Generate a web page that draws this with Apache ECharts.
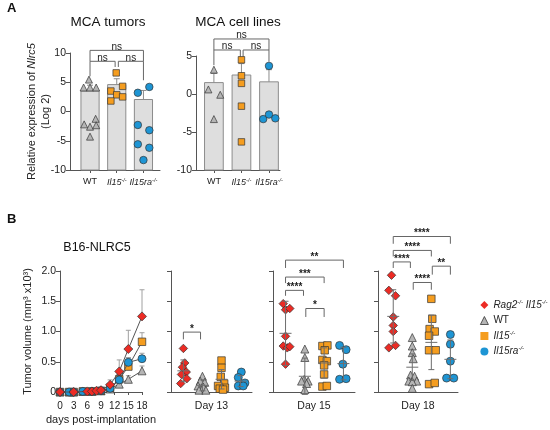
<!DOCTYPE html>
<html><head><meta charset="utf-8">
<script src="https://cdn.jsdelivr.net/npm/echarts@6/dist/echarts.min.js"></script>
<style>html,body{margin:0;padding:0;background:#fff}#c{width:550px;height:430px}</style>
</head><body><div id="c"></div>
<script>
// ================= DATA =================
const groupsA = ['WT', 'Il15', 'Il15ra'];
const xLabelsA = ['WT', '{i|Il15}{s|-/-}', '{i|Il15ra}{s|-/-}'];

// Panel A – MCA tumors (log2 relative expression)
const tumorBar = [3.5, 4.6, 2.05];
const tumorErr = [1.0, 1.0, 1.55];
const tumorWT = [5.45, 4.1, 4.1, 4.1, -1.25, -2.2, -2.6, -2.35, -4.3];
const tumorWTJit = [-0.04, -0.24, 0, 0.23, 0.21, -0.22, 0, 0.23, 0];
const tumorIl15 = [6.6, 3.5, 4.3, 2.85, 1.8, 2.5];
const tumorIl15Jit = [-0.02, -0.22, 0.22, 0, -0.22, 0.22];
const tumorIl15ra = [3.2, 4.2, -2.3, -3.2, -5.6, -6.2, -8.3];
const tumorIl15raJit = [-0.21, 0.22, -0.21, 0.22, -0.21, 0.22, 0];
const tumorBrackets = [[0, 2, 10.45, 1.87, 1.87], [0, 0.94, 8.58, 2.56, 0.97], [1.06, 2, 8.58, 0.97, 3.24]];
const tumorBracketLabels = ['ns', 'ns', 'ns'];

// Panel A – MCA cell lines
const cellBar = [1.5, 2.5, 1.6];
const cellErr = [1.2, 1.5, 1.6];
const cellWT = [3.2, 0.6, -0.1, -3.3];
const cellWTJit = [0, -0.2, 0.23, 0];
const cellIl15 = [4.5, 2.4, 1.4, -1.6, -6.3];
const cellIl15Jit = [0, 0, 0, 0, 0];
const cellIl15ra = [3.7, -3.3, -2.7, -3.2];
const cellIl15raJit = [0, -0.21, 0, 0.23];
const cellBrackets = [[0, 2, 7.24, 1.45, 1.45], [0, 0.96, 5.79, 2.0, 0.9], [1.06, 2, 5.79, 0.9, 1.54]];
const cellBracketLabels = ['ns', 'ns', 'ns'];

// Panel B – tumor growth (mm3 x10^3), mean and SEM
const daysRag2 = [0, 3, 6, 7, 8, 9, 11, 13, 15, 18];
const volRag2 = [0, 0, 0.01, 0.01, 0.02, 0.03, 0.12, 0.34, 0.71, 1.25];
const semRag2 = [0, 0, 0, 0, 0, 0.01, 0.08, 0.19, 0.31, 0.44];
const daysOther = [0, 2, 3, 5, 7, 9, 11, 13, 15, 18];
const volWT = [0, 0, 0, 0.01, 0.01, 0.02, 0.05, 0.13, 0.21, 0.35];
const semWT = [0, 0, 0, 0, 0, 0, 0.02, 0.04, 0.06, 0.08];
const volIl15 = [0, 0, 0, 0.01, 0.01, 0.02, 0.07, 0.21, 0.42, 0.83];
const semIl15 = [0, 0, 0, 0, 0, 0, 0.03, 0.08, 0.15, 0.15];
const volIl15ra = [0, 0, 0, 0.01, 0.01, 0.02, 0.06, 0.2, 0.49, 0.55];
const semIl15ra = [0, 0, 0, 0, 0, 0, 0.02, 0.07, 0.07, 0.09];

const groupsB = ['Rag2', 'WT', 'Il15', 'Il15ra'];

// Day 13
const d13Rag2 = [0.72, 0.48, 0.41, 0.33, 0.29, 0.22, 0.14];
const d13Rag2Jit = [0, 0.07, -0.05, 0.15, -0.1, 0.18, -0.14];
const d13WT = [0.26, 0.18, 0.16, 0.1, 0.08, 0.03, 0.03];
const d13WTJit = [0, -0.12, 0.12, -0.23, 0.05, -0.18, 0.18];
const d13Il15 = [0.52, 0.40, 0.25, 0.14, 0.1, 0.07, 0.055, 0.04];
const d13Il15Jit = [0, 0, -0.04, 0.14, -0.18, 0.18, -0.09, 0.08];
const d13Il15ra = [0.33, 0.24, 0.15, 0.1, 0.1];
const d13Il15raJit = [0.04, -0.12, 0.23, -0.12, 0.14];
const d13Mean = [0.35, 0.11, 0.21, 0.18];
const d13Sd = [0.18, 0.09, 0.16, 0.09];
const d13Brackets = [[0, 0.9, 0.99, 0.12, 0.12]];
const d13BracketLabels = ['*'];

// Day 15
const d15Rag2 = [1.46, 1.36, 1.38, 0.92, 0.76, 0.73, 0.75, 0.46];
const d15Rag2Jit = [-0.12, 0, 0.22, 0, -0.12, 0.09, 0.22, 0];
const d15WT = [0.71, 0.57, 0.21, 0.18, 0.18, 0.14, 0.04];
const d15WTJit = [0, 0, -0.03, 0.17, -0.17, 0.09, 0];
const d15Il15 = [0.76, 0.77, 0.69, 0.53, 0.51, 0.44, 0.29, 0.09, 0.1];
const d15Il15Jit = [-0.09, 0.17, 0.03, -0.09, 0.14, 0, 0, -0.09, 0.14];
const d15Il15ra = [0.77, 0.7, 0.46, 0.21, 0.22];
const d15Il15raJit = [-0.2, 0.14, -0.03, -0.2, 0.14];
const d15Mean = [0.97, 0.26, 0.48, 0.47];
const d15Sd = [0.53, 0.3, 0.25, 0.27];
const d15Brackets = [[0, 3, 2.18, 0.13, 0.13], [0, 2, 1.9, 0.1, 0.1], [0, 0.93, 1.68, 0.09, 0.09], [1.05, 2, 1.38, 0.14, 0.14]];
const d15BracketLabels = ['**', '***', '****', '*'];

// Day 18
const d18Rag2 = [1.93, 1.68, 1.59, 1.24, 1.1, 1.0, 0.73, 0.77];
const d18Rag2Jit = [-0.09, -0.23, 0.12, 0, 0, 0, -0.23, 0.12];
const d18WT = [0.9, 0.76, 0.65, 0.55, 0.28, 0.26, 0.18, 0.18, 0.17, 0.06];
const d18WTJit = [0, 0, 0, 0.05, -0.09, 0.12, -0.18, 0.23, 0, 0];
const d18Il15 = [1.54, 1.21, 1.04, 1.0, 0.93, 0.69, 0.69, 0.13, 0.15];
const d18Il15Jit = [0, 0.05, -0.09, 0.18, -0.12, -0.12, 0.23, -0.12, 0.18];
const d18Il15ra = [0.95, 0.79, 0.51, 0.23, 0.23];
const d18Il15raJit = [0, 0, 0, -0.2, 0.18];
const d18Mean = [1.25, 0.41, 0.82, 0.54];
const d18Sd = [0.44, 0.22, 0.45, 0.32];
const d18Brackets = [[0, 3, 2.57, 0.12, 0.12], [0, 2, 2.34, 0.1, 0.1], [0, 0.9, 2.15, 0.1, 0.1], [2.05, 3, 2.08, 0.14, 0.14], [1.05, 2, 1.81, 0.12, 0.12]];
const d18BracketLabels = ['****', '****', '****', '**', '****'];

const legendLabels = {
  Rag2: '{i|Rag2}{s|-/-} {i|Il15}{s|-/-}',
  WT: 'WT',
  Il15: '{i|Il15}{s|-/-}',
  Il15ra: '{i|Il15ra}{s|-/-}'
};

// ================= STYLE =================
const FONT = 'Liberation Sans, Arial, Helvetica, sans-serif';
const COLOR = { Rag2: '#ec2b24', WT: '#b5b5b5', Il15: '#f59d1f', Il15ra: '#1e95d4' };
const SYMBOL = { Rag2: 'diamond', WT: 'triangle', Il15: 'rect', Il15ra: 'circle' };
const AXIS_C = '#555';
const RICH = {
  i: { fontStyle: 'italic', fontFamily: FONT, fontSize: 9, color: '#222', lineHeight: 11 },
  s: { fontStyle: 'italic', fontFamily: FONT, fontSize: 5.5, color: '#222', verticalAlign: 'top', lineHeight: 11 }
};

const chart = echarts.init(document.getElementById('c'), null, { renderer: 'canvas' });

// ---------- render helpers ----------
const BAR_HW = 0.34;
function renderBar(params, api) {
  const x = api.value(0), v = api.value(1), base = api.value(2);
  const a = api.coord([x - BAR_HW, base]), b = api.coord([x + BAR_HW, v]);
  return { type: 'rect', shape: { x: a[0], y: b[1], width: b[0] - a[0], height: a[1] - b[1] },
    style: { fill: '#dedede', stroke: '#8c8c8c', lineWidth: 1 } };
}
function errRender(color, capPx, meanPx, both) {
  return function (params, api) {
    const x = api.value(0), m = api.value(1), e = api.value(2);
    if (!e) return null;
    const t = api.coord([x, m + e]), c = api.coord([x, m]), b = api.coord([x, both ? m - e : m]);
    const st = { stroke: color, lineWidth: 1 };
    const ch = [
      { type: 'line', shape: { x1: t[0], y1: t[1], x2: b[0], y2: b[1] }, style: st },
      { type: 'line', shape: { x1: t[0] - capPx, y1: t[1], x2: t[0] + capPx, y2: t[1] }, style: st }
    ];
    if (both) {
      ch.push({ type: 'line', shape: { x1: b[0] - capPx, y1: b[1], x2: b[0] + capPx, y2: b[1] }, style: st });
      ch.push({ type: 'line', shape: { x1: c[0] - meanPx, y1: c[1], x2: c[0] + meanPx, y2: c[1] }, style: st });
    }
    return { type: 'group', children: ch };
  };
}
function bracketRender(labels, font, dy) {
  return function (params, api) {
    const x1 = api.value(0), x2 = api.value(1), y = api.value(2), d1 = api.value(3), d2 = api.value(4);
    const p1 = api.coord([x1, y - d1]), p2 = api.coord([x1, y]), p3 = api.coord([x2, y]), p4 = api.coord([x2, y - d2]);
    return { type: 'group', children: [
      { type: 'polyline', shape: { points: [p1, p2, p3, p4] }, style: { stroke: '#666', fill: 'none', lineWidth: 1 } },
      { type: 'text', x: (p2[0] + p3[0]) / 2, y: p2[1] + dy,
        style: { text: labels[params.dataIndex], font: font, fill: '#222', align: 'center', verticalAlign: 'bottom' } }
    ] };
  };
}

const series = [];
function scatter(name, idx, gi, vals, jit, size) {
  series.push({
    type: 'scatter', name: name, xAxisIndex: idx, yAxisIndex: idx,
    data: vals.map((v, k) => [gi + jit[k], v]),
    symbol: SYMBOL[name], symbolSize: size[name], z: 5,
    itemStyle: { color: COLOR[name], borderColor: '#333', borderWidth: 0.7, opacity: 1 },
    emphasis: { disabled: true }, silent: true, clip: false
  });
}
function custom(idx, data, render, z) {
  series.push({ type: 'custom', xAxisIndex: idx, yAxisIndex: idx, data: data, renderItem: render, z: z || 3, silent: true, clip: false });
}

// ---- Panel A ----
const sizeA = { WT: 7, Il15: 6.5, Il15ra: 7.5, Rag2: 7 };
custom(0, tumorBar.map((v, i) => [i, v, -10]), renderBar, 1);
custom(0, tumorBar.map((v, i) => [i, v, tumorErr[i]]), errRender('#8c8c8c', 3, 0, false), 2);
scatter('WT', 0, 0, tumorWT, tumorWTJit, sizeA);
scatter('Il15', 0, 1, tumorIl15, tumorIl15Jit, sizeA);
scatter('Il15ra', 0, 2, tumorIl15ra, tumorIl15raJit, sizeA);
custom(0, tumorBrackets, bracketRender(tumorBracketLabels, '10px ' + FONT, 1.5), 4);

custom(1, cellBar.map((v, i) => [i, v, -10]), renderBar, 1);
custom(1, cellBar.map((v, i) => [i, v, cellErr[i]]), errRender('#8c8c8c', 3, 0, false), 2);
scatter('WT', 1, 0, cellWT, cellWTJit, sizeA);
scatter('Il15', 1, 1, cellIl15, cellIl15Jit, sizeA);
scatter('Il15ra', 1, 2, cellIl15ra, cellIl15raJit, sizeA);
custom(1, cellBrackets, bracketRender(cellBracketLabels, '10px ' + FONT, 1.5), 4);

// ---- Panel B line chart ----
const sizeL = { Rag2: 9, WT: 8, Il15: 7.5, Il15ra: 8 };
const lineSets = [
  ['WT', daysOther, volWT, semWT],
  ['Il15', daysOther, volIl15, semIl15],
  ['Il15ra', daysOther, volIl15ra, semIl15ra],
  ['Rag2', daysRag2, volRag2, semRag2]
];
lineSets.forEach(([name, d, v, s], k) => {
  custom(2, d.map((x, i) => [x, v[i], s[i]]), errRender('#a0a0a0', 2.5, 0, false), 2);
});
lineSets.forEach(([name, d, v, s], k) => {
  series.push({
    type: 'line', name: name, xAxisIndex: 2, yAxisIndex: 2,
    data: d.map((x, i) => [x, v[i]]),
    symbol: SYMBOL[name], symbolSize: sizeL[name], showSymbol: true, z: 5 + k,
    lineStyle: { color: '#555', width: 1 },
    itemStyle: { color: COLOR[name], borderColor: '#333', borderWidth: 0.7 },
    emphasis: { disabled: true }, silent: true, clip: false
  });
});

// ---- Day panels ----
const sizeD = { Rag2: 8.5, WT: 8, Il15: 7.5, Il15ra: 8 };
const dayPanels = [
  [3, [d13Rag2, d13WT, d13Il15, d13Il15ra], [d13Rag2Jit, d13WTJit, d13Il15Jit, d13Il15raJit], d13Mean, d13Sd, d13Brackets, d13BracketLabels],
  [4, [d15Rag2, d15WT, d15Il15, d15Il15ra], [d15Rag2Jit, d15WTJit, d15Il15Jit, d15Il15raJit], d15Mean, d15Sd, d15Brackets, d15BracketLabels],
  [5, [d18Rag2, d18WT, d18Il15, d18Il15ra], [d18Rag2Jit, d18WTJit, d18Il15Jit, d18Il15raJit], d18Mean, d18Sd, d18Brackets, d18BracketLabels]
];
dayPanels.forEach(([idx, vals, jits, mean, sd, br, brl]) => {
  groupsB.forEach((g, gi) => scatter(g, idx, gi, vals[gi], jits[gi], sizeD));
  custom(idx, mean.map((m, i) => [i, m, sd[i]]), errRender('#6e6e6e', 3, 6, true), 6);
  custom(idx, br, bracketRender(brl, 'bold 10px ' + FONT, 2), 4);
});

// ---------- axes ----------
const axLine = { show: true, onZero: false, lineStyle: { color: AXIS_C, width: 1 } };
const grids = [
  { left: 70, top: 53, width: 90, height: 117 },
  { left: 196, top: 56, width: 84, height: 114 },
  { left: 60, top: 271, width: 82, height: 121 },
  { left: 171, top: 271, width: 81, height: 121 },
  { left: 273, top: 271, width: 82, height: 121 },
  { left: 378, top: 271, width: 80, height: 121 }
];
function catX(min, max, withLabels, name) {
  return {
    type: 'value', min: min, max: max, axisLine: axLine, splitLine: { show: false },
    axisTick: { show: withLabels, customValues: [0, 1, 2], length: 3, lineStyle: { color: AXIS_C } },
    axisLabel: withLabels ? { show: true, customValues: [0, 1, 2], formatter: v => xLabelsA[Math.round(v)],
      fontFamily: FONT, fontSize: 9, color: '#222', margin: 7, rich: RICH } : { show: false },
    name: name || '', nameLocation: 'middle', nameGap: 9, nameMoveOverlap: false,
    nameTextStyle: { fontFamily: FONT, fontSize: 10.5, color: '#222' }
  };
}
const xAxis = [
  catX(-0.75, 2.62, true),
  catX(-0.65, 2.4, true),
  {
    type: 'value', min: 0, max: 18, interval: 3, axisLine: axLine, splitLine: { show: false },
    axisTick: { show: true, length: 3, lineStyle: { color: AXIS_C } },
    axisLabel: { fontFamily: FONT, fontSize: 10, color: '#222', margin: 9 },
    name: 'days post-implantation', nameLocation: 'middle', nameGap: 22, nameMoveOverlap: false,
    nameTextStyle: { fontFamily: FONT, fontSize: 11, color: '#222' }
  },
  catX(-0.65, 3.6, false, 'Day 13'),
  catX(-0.65, 3.6, false, 'Day 15'),
  catX(-0.8, 3.4, false, 'Day 18')
];
function yAx(min, max, interval, labels, fmt, name, gap, nameStyle) {
  return {
    type: 'value', min: min, max: max, interval: interval, axisLine: axLine, splitLine: { show: false },
    axisTick: { show: true, length: 4, lineStyle: { color: AXIS_C } },
    axisLabel: labels ? { show: true, fontFamily: FONT, fontSize: 10.5, color: '#222', margin: 4, formatter: fmt } : { show: false },
    name: name || '', nameLocation: 'middle', nameGap: gap || 0, nameRotate: 90, nameMoveOverlap: false,
    nameTextStyle: nameStyle || {}
  };
}
const yAxis = [
  yAx(-10, 10, 5, true, null, 'Relative expression of {i|Nlrc5}\n(Log 2)', 17,
    { fontFamily: FONT, fontSize: 11, color: '#222', lineHeight: 14, align: 'center',
      rich: { i: { fontStyle: 'italic', fontFamily: FONT, fontSize: 11, color: '#222', lineHeight: 14 } } }),
  yAx(-10, 5, 5, true, null),
  yAx(0, 2, 0.5, true, v => v === 0 ? '0' : v.toFixed(1), 'Tumor volume (mm³ x10³)', 27,
    { fontFamily: FONT, fontSize: 11, color: '#222' }),
  yAx(0, 2, 0.5, false),
  yAx(0, 2, 0.5, false),
  yAx(0, 2, 0.5, false)
];
xAxis.forEach((a, i) => a.gridIndex = i);
yAxis.forEach((a, i) => a.gridIndex = i);

function title(text, left, top, size, bold, align) {
  return { text: text, left: left, top: top, padding: 0, textAlign: align || 'left',
    textStyle: { fontFamily: FONT, fontSize: size, color: '#111', fontWeight: bold ? 'bold' : 'normal' } };
}

chart.setOption({
  backgroundColor: '#fff',
  animation: false,
  title: [
    title('A', 7, 2, 13, true),
    title('MCA tumors', 108, 15, 13.5, false, 'center'),
    title('MCA cell lines', 238, 15, 13.5, false, 'center'),
    title('B', 7, 213, 13, true),
    title('B16-NLRC5', 97, 241, 12.5, false, 'center')
  ],
  legend: {
    orient: 'vertical', left: 480, top: 299, padding: 0, itemGap: 3.5, itemWidth: 8, itemHeight: 8,
    selectedMode: false,
    data: groupsB.map(g => ({ name: g, icon: SYMBOL[g],
      itemStyle: { color: COLOR[g], borderColor: g === 'WT' ? '#333' : COLOR[g], borderWidth: g === 'WT' ? 0.8 : 0 } })),
    formatter: n => legendLabels[n],
    textStyle: { fontFamily: FONT, fontSize: 10, color: '#222', lineHeight: 12,
      rich: { i: { fontStyle: 'italic', fontFamily: FONT, fontSize: 10, color: '#222', lineHeight: 12 },
              s: { fontStyle: 'italic', fontFamily: FONT, fontSize: 6, color: '#222', verticalAlign: 'top', lineHeight: 12 } } }
  },
  grid: grids,
  xAxis: xAxis,
  yAxis: yAxis,
  series: series
});
</script>
</body></html>
